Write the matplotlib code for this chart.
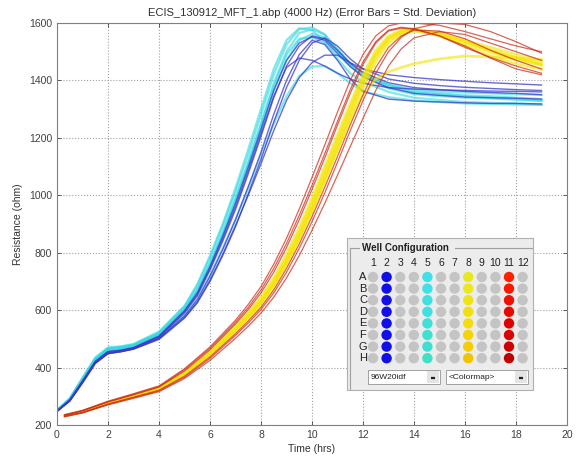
import matplotlib
matplotlib.use('Agg')
import matplotlib.pyplot as plt
from matplotlib.patches import Rectangle, Circle

plt.rcParams['font.family'] = ['Liberation Sans', 'DejaVu Sans']

# ─────────────────────────────────────────────
# Data
# ─────────────────────────────────────────────

# time grid for columns 2 and 5
T_EARLY = [0, 0.5, 1, 1.5, 2, 2.5, 3, 4, 5, 5.5, 6, 6.5, 7, 7.5, 8, 8.5,
           9, 9.5, 10, 10.5, 11, 11.5, 12, 13, 14, 15, 16, 17, 18, 19]

# column 5 (cyan)
CYAN = [
    [250, 292, 362, 432, 468, 472, 480, 522, 612, 685, 782, 892, 1012, 1140, 1280, 1420, 1525, 1578, 1585, 1560, 1505, 1455, 1415, 1372, 1352, 1345, 1340, 1337, 1333, 1328],
    [252, 290, 358, 428, 465, 470, 478, 518, 605, 672, 765, 872, 990, 1115, 1250, 1390, 1500, 1565, 1578, 1560, 1510, 1460, 1425, 1385, 1362, 1355, 1348, 1345, 1340, 1335],
    [248, 288, 355, 425, 462, 468, 476, 515, 600, 665, 755, 860, 975, 1100, 1230, 1365, 1470, 1540, 1562, 1550, 1505, 1455, 1420, 1380, 1358, 1352, 1345, 1340, 1335, 1330],
    [250, 286, 352, 420, 458, 464, 472, 508, 585, 642, 722, 815, 915, 1025, 1140, 1250, 1345, 1415, 1448, 1450, 1425, 1390, 1362, 1342, 1330, 1325, 1320, 1318, 1316, 1315],
    [251, 293, 365, 435, 470, 474, 482, 525, 615, 690, 790, 900, 1025, 1160, 1300, 1440, 1540, 1582, 1575, 1535, 1475, 1425, 1395, 1360, 1340, 1332, 1325, 1322, 1320, 1316],
    [249, 289, 357, 427, 463, 469, 477, 516, 602, 668, 760, 865, 985, 1110, 1245, 1380, 1490, 1545, 1550, 1530, 1490, 1450, 1418, 1385, 1368, 1362, 1358, 1355, 1352, 1350],
]

# column 2 (blue)
BLUE = [
    [248, 285, 350, 418, 452, 458, 467, 505, 590, 650, 740, 840, 950, 1075, 1205, 1340, 1450, 1520, 1555, 1545, 1505, 1460, 1428, 1392, 1375, 1368, 1362, 1358, 1355, 1350],
    [247, 283, 346, 414, 448, 455, 464, 498, 572, 625, 700, 790, 890, 1005, 1125, 1255, 1375, 1470, 1530, 1548, 1520, 1475, 1440, 1405, 1390, 1382, 1376, 1372, 1368, 1365],
    [249, 287, 352, 420, 455, 460, 469, 508, 595, 655, 745, 848, 960, 1085, 1215, 1345, 1445, 1478, 1470, 1450, 1425, 1405, 1390, 1375, 1370, 1367, 1365, 1363, 1362, 1360],
    [248, 284, 348, 416, 450, 456, 465, 500, 575, 628, 705, 795, 895, 1000, 1110, 1225, 1330, 1410, 1462, 1488, 1488, 1462, 1440, 1420, 1410, 1403, 1397, 1392, 1388, 1384],
    [250, 288, 354, 422, 456, 461, 470, 510, 598, 660, 752, 858, 972, 1098, 1230, 1365, 1470, 1530, 1552, 1540, 1495, 1448, 1412, 1375, 1355, 1348, 1342, 1340, 1338, 1335],
    [248, 284, 347, 415, 449, 455, 465, 502, 580, 636, 718, 812, 915, 1030, 1150, 1282, 1400, 1490, 1540, 1525, 1470, 1405, 1362, 1335, 1328, 1325, 1322, 1320, 1320, 1318],
]

# time grid for columns 8 and 11
T_LATE = [0.3, 1, 2, 3, 4, 5, 6, 7, 7.5, 8, 8.5, 9, 9.5, 10, 10.5, 11,
          11.5, 12, 12.5, 13, 13.5, 14, 15, 16, 17, 18, 19]

# column 8 (yellow)
YELLOW = [
    [232, 246, 276, 300, 326, 378, 448, 535, 580, 630, 695, 775, 865, 965, 1075, 1185, 1295, 1400, 1488, 1545, 1570, 1578, 1560, 1528, 1498, 1472, 1452],
    [233, 247, 278, 302, 328, 382, 455, 545, 592, 645, 712, 795, 888, 990, 1100, 1210, 1320, 1420, 1505, 1555, 1575, 1580, 1565, 1535, 1505, 1480, 1460],
    [231, 245, 274, 298, 323, 374, 442, 526, 570, 618, 680, 758, 845, 942, 1050, 1160, 1270, 1375, 1465, 1530, 1560, 1572, 1562, 1540, 1515, 1490, 1470],
    [232, 246, 275, 299, 324, 376, 445, 530, 575, 625, 688, 765, 852, 948, 1052, 1158, 1262, 1350, 1405, 1430, 1445, 1458, 1475, 1485, 1482, 1478, 1472],
    [233, 247, 277, 301, 327, 380, 452, 540, 586, 638, 704, 785, 876, 978, 1088, 1198, 1308, 1410, 1495, 1550, 1572, 1576, 1555, 1520, 1485, 1458, 1438],
    [232, 246, 276, 300, 325, 377, 447, 532, 578, 628, 692, 770, 858, 958, 1065, 1175, 1285, 1390, 1480, 1540, 1565, 1575, 1563, 1535, 1505, 1478, 1455],
]

# column 11 (red)
RED = [
    [236, 251, 283, 309, 336, 396, 472, 565, 620, 682, 760, 850, 952, 1062, 1175, 1290, 1400, 1490, 1555, 1590, 1600, 1600, 1592, 1570, 1545, 1520, 1500],
    [234, 249, 280, 305, 332, 388, 462, 552, 602, 660, 732, 818, 915, 1020, 1130, 1245, 1355, 1455, 1530, 1572, 1582, 1578, 1555, 1515, 1480, 1450, 1425],
    [229, 242, 270, 293, 316, 362, 425, 502, 544, 590, 645, 712, 790, 878, 972, 1070, 1170, 1268, 1365, 1450, 1510, 1548, 1570, 1560, 1530, 1500, 1470],
    [231, 244, 273, 297, 321, 370, 437, 518, 562, 610, 670, 745, 830, 925, 1028, 1135, 1245, 1350, 1445, 1515, 1555, 1575, 1572, 1545, 1505, 1470, 1440],
    [230, 243, 272, 295, 319, 366, 432, 512, 555, 602, 660, 732, 815, 908, 1008, 1115, 1225, 1330, 1425, 1500, 1550, 1580, 1600, 1595, 1570, 1535, 1495],
    [235, 250, 281, 307, 334, 392, 467, 558, 610, 670, 745, 832, 930, 1035, 1145, 1258, 1368, 1465, 1535, 1575, 1585, 1580, 1555, 1520, 1478, 1440, 1420],
]

X_TICKS = list(range(0, 21, 2))
Y_TICKS = list(range(200, 1601, 200))

WELL_COLS = [str(i) for i in range(1, 13)]
WELL_ROWS = ['A', 'B', 'C', 'D', 'E', 'F', 'G', 'H']
# colours of the selected columns, row A..H
WELL_COLOURS = {
    2:  ['#1010e8'] * 8,
    5:  ['#40e0e8', '#40e0e8', '#40e0e0', '#40e0e0', '#40e0d8', '#40e0d0', '#40e0d0', '#40e0c8'],
    8:  ['#e8e820', '#ece820', '#f0e418', '#f0e010', '#f4dc10', '#f4d408', '#f4cc08', '#f0c400'],
    11: ['#ff2000', '#f81800', '#f01000', '#e80800', '#e00000', '#d80000', '#cc0000', '#c00000'],
}

# ─────────────────────────────────────────────
# Plot
# ─────────────────────────────────────────────

fig = plt.figure(figsize=(5.77, 4.59), dpi=100)
ax = fig.add_axes([57/577, 34/459, 510/577, 402/459])

for y in CYAN:
    ax.plot(T_EARLY, y, color='#30d8e0', lw=1.6, alpha=0.6)
for y in BLUE:
    ax.plot(T_EARLY, y, color='#3838c8', lw=1.0, alpha=0.75)
for y in YELLOW:
    ax.plot(T_LATE, y, color='#f4e400', lw=2.0, alpha=0.6)
for y in RED:
    ax.plot(T_LATE, y, color='#cc3020', lw=0.9, alpha=0.75)

ax.set_xlim(0, 20)
ax.set_ylim(200, 1600)
ax.set_xticks(X_TICKS)
ax.set_yticks(Y_TICKS)
ax.tick_params(direction='in', top=True, right=True, labelsize=7.5,
               colors='#404040', length=3, width=0.6)
ax.grid(True, linestyle=':', color='#a0a0a0', linewidth=0.8)
for s in ax.spines.values():
    s.set_color('#808080')
    s.set_linewidth(0.8)

ax.set_title('ECIS_130912_MFT_1.abp (4000 Hz) (Error Bars = Std. Deviation)',
             fontsize=8, color='#303030', pad=5)
ax.set_xlabel('Time (hrs)', fontsize=7.5, color='#303030', labelpad=3)
ax.set_ylabel('Resistance (ohm)', fontsize=7.5, color='#303030', labelpad=4)

# ─────────────────────────────────────────────
# Well configuration panel (pixel units, y downward)
# ─────────────────────────────────────────────

pw, ph = 186, 152
pax = fig.add_axes([347/577, 1 - 390/459, pw/577, ph/459])
pax.set_xlim(0, pw)
pax.set_ylim(ph, 0)
pax.axis('off')
pax.add_patch(Rectangle((0, 0), pw, ph, facecolor='#ececec',
                        edgecolor='#b0b0b0', lw=0.8, clip_on=False))
# group frame
pax.plot([3, 3], [10, ph], color='#a0a0a0', lw=0.8)
pax.plot([3, 12], [10, 10], color='#a0a0a0', lw=0.8)
pax.plot([108, pw], [10, 10], color='#a0a0a0', lw=0.8)
pax.text(15, 10, 'Well Configuration', fontsize=7, fontweight='bold',
         color='#202020', va='center', ha='left')

x0, dx = 26, 13.6
y0, dy = 39, 11.6
for i, c in enumerate(WELL_COLS):
    pax.text(x0 + i * dx, 25, c, fontsize=7.5, color='#202020',
             ha='center', va='center')
for j, r in enumerate(WELL_ROWS):
    pax.text(16, y0 + j * dy, r, fontsize=8, color='#202020',
             ha='center', va='center')
    for i in range(12):
        col = WELL_COLOURS.get(i + 1, ['#c4c4c4'] * 8)[j]
        pax.add_patch(Circle((x0 + i * dx, y0 + j * dy), 5.2,
                             facecolor=col, edgecolor='none'))

# dropdowns
for (bx0, bx1, label) in [(21, 93, '96W20idf'), (99, 181, '<Colormap>')]:
    pax.add_patch(Rectangle((bx0, 132), bx1 - bx0, 14, facecolor='white',
                            edgecolor='#a0a0a0', lw=0.7))
    pax.add_patch(Rectangle((bx1 - 13, 133), 12, 12, facecolor='#e4e4e4',
                            edgecolor='none'))
    pax.plot([bx1 - 9, bx1 - 5], [140, 140], color='#202020', lw=1.6,
             solid_capstyle='butt')
    pax.text(bx0 + 3, 139.5, label, fontsize=6, color='#202020',
             va='center', ha='left')

fig.savefig('out.png', dpi=100)
